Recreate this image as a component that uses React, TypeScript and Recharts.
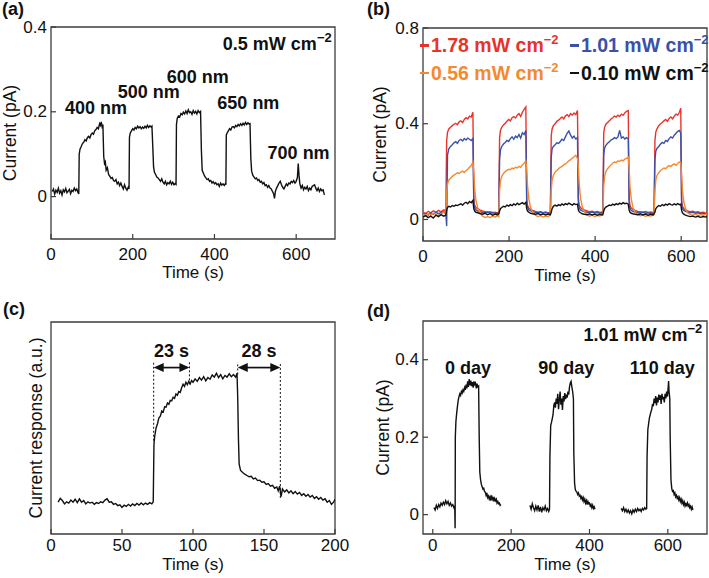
import React from "react";
import {
  LineChart, Line, XAxis, YAxis, ReferenceArea, ReferenceLine, ReferenceDot, Legend,
} from "recharts";

const FONT = '"Liberation Sans", Arial, Helvetica, sans-serif';
const INK = "#111111";
const FRAME = "#3c3c3c";
const AXIS_W = 40;
const AXIS_H = 30;

// ---------- (a) wavelength response, 0.5 mW cm-2 ----------
const traceA: [number, number][] = [
  [3, 0.012], [6, 0.018], [9, 0.006], [12, 0.015], [15, 0.010], [18, 0.020], [21, 0.008], [24, 0.014],
  [27, 0.004], [30, 0.016], [33, 0.011], [36, 0.019], [39, 0.009], [42, 0.013], [45, 0.017], [48, 0.007],
  [51, 0.015], [54, 0.012], [57, 0.020], [60, 0.014], [63, 0.018], [66, 0.010], [68, 0.006],
  [69, 0.100], [71, 0.112], [74, 0.118], [77, 0.125], [80, 0.128], [83, 0.134], [86, 0.131], [89, 0.139],
  [92, 0.142], [95, 0.138], [98, 0.146], [101, 0.150], [104, 0.147], [107, 0.155], [110, 0.158], [113, 0.163],
  [116, 0.160], [119, 0.172], [121, 0.168], [123, 0.176], [125, 0.165], [127, 0.170],
  [129, 0.095], [131, 0.078], [133, 0.082], [135, 0.062], [138, 0.068], [141, 0.052], [144, 0.048], [147, 0.043],
  [150, 0.045], [153, 0.038], [156, 0.036], [159, 0.040], [162, 0.030], [165, 0.034], [168, 0.026], [171, 0.032],
  [174, 0.024], [177, 0.018], [180, 0.028], [183, 0.020], [186, 0.015], [189, 0.022], [191, 0.018],
  [192, 0.140], [194, 0.150], [197, 0.155], [200, 0.160], [203, 0.157], [206, 0.163], [209, 0.160], [212, 0.166],
  [215, 0.162], [218, 0.165], [221, 0.160], [224, 0.164], [227, 0.161], [230, 0.166], [233, 0.162], [236, 0.168],
  [239, 0.163], [242, 0.167], [245, 0.164], [247, 0.166],
  [249, 0.120], [251, 0.070], [253, 0.058], [256, 0.052], [259, 0.046], [262, 0.044], [265, 0.040], [268, 0.036],
  [271, 0.042], [274, 0.034], [277, 0.030], [280, 0.036], [283, 0.028], [286, 0.033], [289, 0.030], [292, 0.036],
  [295, 0.029], [298, 0.034], [301, 0.028], [304, 0.031], [306, 0.029],
  [307, 0.170], [309, 0.185], [312, 0.190], [315, 0.188], [318, 0.196], [321, 0.193], [324, 0.199], [327, 0.195],
  [330, 0.202], [333, 0.196], [336, 0.205], [339, 0.198], [342, 0.200], [345, 0.194], [348, 0.203], [351, 0.197],
  [354, 0.201], [357, 0.195], [360, 0.203], [363, 0.198], [366, 0.201],
  [368, 0.110], [370, 0.062], [373, 0.055], [376, 0.048], [379, 0.044], [382, 0.040], [385, 0.042], [388, 0.036],
  [391, 0.038], [394, 0.032], [397, 0.035], [400, 0.030], [403, 0.033], [406, 0.028], [409, 0.030], [412, 0.024],
  [415, 0.032], [418, 0.027], [421, 0.030], [424, 0.026], [427, 0.031], [428, 0.028],
  [429, 0.145], [431, 0.150], [434, 0.155], [437, 0.160], [440, 0.157], [443, 0.164], [446, 0.165], [449, 0.162],
  [452, 0.168], [455, 0.165], [458, 0.170], [461, 0.167], [464, 0.172], [467, 0.168], [470, 0.173], [473, 0.169],
  [476, 0.175], [479, 0.170], [482, 0.174], [485, 0.171], [487, 0.172],
  [489, 0.090], [491, 0.060], [494, 0.050], [497, 0.046], [500, 0.042], [503, 0.044], [506, 0.038], [509, 0.040],
  [512, 0.034], [515, 0.036], [518, 0.030], [521, 0.033], [524, 0.026], [527, 0.028], [530, 0.022], [533, 0.026],
  [536, 0.020], [539, 0.018], [542, 0.012], [545, 0.006], [547, -0.004], [549, 0.012], [552, 0.020], [555, 0.026],
  [558, 0.032], [561, 0.036], [564, 0.028], [567, 0.022], [570, 0.018], [573, 0.024], [576, 0.030], [579, 0.026],
  [582, 0.032], [585, 0.030], [588, 0.036], [591, 0.033], [594, 0.038], [597, 0.032], [600, 0.036], [603, 0.045],
  [605, 0.078], [607, 0.050], [609, 0.030], [612, 0.020], [615, 0.026], [618, 0.016], [621, 0.022], [624, 0.018],
  [627, 0.024], [630, 0.014], [633, 0.020], [636, 0.016], [639, 0.024], [642, 0.026], [645, 0.028], [648, 0.020],
  [651, 0.014], [654, 0.020], [657, 0.012], [660, 0.018], [663, 0.014], [666, 0.016], [669, 0.004],
];
const wavelengths = ["400 nm", "500 nm", "600 nm", "650 nm", "700 nm"];
const wavelengthPos: [number, number][] = [[110, 0.208], [239, 0.247], [359, 0.282], [483, 0.22], [606, 0.104]];

// ---------- (b) intensity dependence ----------
const timeB = [
  0, 6, 12, 18, 24, 30, 36, 42, 48, 53,
  55, 57, 60, 64, 68, 72, 76, 80, 84, 88, 92, 96, 100, 104, 108, 112, 116,
  118, 120, 123, 127, 132, 138, 144, 150, 156, 162, 168, 173, 176,
  178, 180, 183, 187, 191, 195, 199, 203, 207, 211, 215, 219, 223, 227, 231, 235, 239,
  241, 243, 246, 250, 255, 261, 267, 273, 279, 285, 291, 296,
  298, 300, 303, 307, 311, 315, 319, 323, 327, 331, 335, 339, 343, 347, 351, 355, 359,
  361, 363, 366, 370, 375, 381, 387, 393, 399, 405, 411, 416, 418,
  420, 422, 425, 429, 433, 437, 441, 445, 449, 453, 457, 461, 465, 469, 473, 477,
  479, 481, 484, 488, 493, 499, 505, 511, 517, 523, 529, 535, 537,
  539, 541, 544, 548, 552, 556, 560, 564, 568, 572, 576, 580, 584, 588, 592, 596, 599,
  601, 603, 606, 610, 615, 621, 627, 633, 639, 645, 651, 657, 660,
];
const red178 = [
  0.030, 0.024, 0.034, 0.028, 0.036, 0.030, 0.038, 0.032, 0.040, 0.036,
  0.330, 0.365, 0.378, 0.385, 0.392, 0.398, 0.402, 0.396, 0.408, 0.412, 0.405, 0.418, 0.425, 0.420, 0.432, 0.428, 0.448,
  0.090, 0.060, 0.050, 0.045, 0.040, 0.036, 0.033, 0.030, 0.032, 0.028, 0.030, 0.026, 0.030,
  0.340, 0.372, 0.385, 0.395, 0.402, 0.410, 0.418, 0.412, 0.425, 0.430, 0.424, 0.436, 0.442, 0.430, 0.448, 0.460, 0.470,
  0.085, 0.058, 0.048, 0.042, 0.038, 0.034, 0.030, 0.032, 0.028, 0.031, 0.027, 0.030,
  0.350, 0.378, 0.392, 0.400, 0.410, 0.415, 0.422, 0.428, 0.420, 0.432, 0.438, 0.430, 0.442, 0.436, 0.445, 0.438, 0.455,
  0.090, 0.060, 0.050, 0.044, 0.040, 0.036, 0.032, 0.034, 0.030, 0.033, 0.029, 0.031, 0.030,
  0.360, 0.385, 0.398, 0.405, 0.412, 0.420, 0.425, 0.432, 0.428, 0.436, 0.430, 0.440, 0.435, 0.445, 0.452, 0.455,
  0.088, 0.058, 0.048, 0.042, 0.038, 0.034, 0.032, 0.030, 0.033, 0.029, 0.031, 0.028, 0.030,
  0.330, 0.365, 0.380, 0.392, 0.400, 0.405, 0.412, 0.418, 0.410, 0.422, 0.428, 0.420, 0.432, 0.440, 0.436, 0.448, 0.465,
  0.080, 0.055, 0.046, 0.040, 0.036, 0.032, 0.034, 0.030, 0.032, 0.028, 0.030, 0.026, 0.028,
];
const blue101 = [
  0.020, 0.026, 0.018, 0.028, 0.022, 0.030, 0.024, 0.028, 0.032, 0.026,
  -0.028, 0.270, 0.295, 0.305, 0.312, 0.320, 0.325, 0.318, 0.330, 0.335, 0.328, 0.338, 0.332, 0.340, 0.335, 0.330, 0.338,
  0.070, 0.048, 0.040, 0.036, 0.032, 0.030, 0.028, 0.031, 0.027, 0.029, 0.025, 0.028, 0.026,
  0.250, 0.290, 0.305, 0.315, 0.322, 0.330, 0.326, 0.338, 0.345, 0.335, 0.348, 0.342, 0.355, 0.340, 0.362, 0.355, 0.372,
  0.075, 0.050, 0.040, 0.036, 0.033, 0.030, 0.028, 0.031, 0.027, 0.029, 0.026, 0.028,
  0.260, 0.295, 0.305, 0.312, 0.320, 0.318, 0.326, 0.335, 0.330, 0.345, 0.360, 0.370, 0.352, 0.340, 0.348, 0.336, 0.342,
  0.072, 0.048, 0.040, 0.036, 0.033, 0.030, 0.028, 0.031, 0.027, 0.029, 0.026, 0.028, 0.027,
  0.270, 0.298, 0.310, 0.318, 0.325, 0.332, 0.336, 0.342, 0.338, 0.345, 0.372, 0.340, 0.345, 0.336, 0.342, 0.338,
  0.070, 0.046, 0.038, 0.034, 0.031, 0.029, 0.027, 0.030, 0.026, 0.028, 0.025, 0.027, 0.026,
  0.250, 0.285, 0.298, 0.305, 0.315, 0.322, 0.318, 0.330, 0.326, 0.338, 0.345, 0.340, 0.352, 0.360, 0.368, 0.372, 0.360,
  0.065, 0.045, 0.038, 0.034, 0.031, 0.028, 0.030, 0.026, 0.028, 0.024, 0.026, 0.022, 0.024,
];
const orange056 = [
  0.020, 0.014, 0.024, 0.018, 0.026, 0.020, 0.016, 0.024, 0.030, 0.022,
  0.110, 0.150, 0.165, 0.172, 0.180, 0.185, 0.190, 0.195, 0.192, 0.198, 0.202, 0.196, 0.205, 0.210, 0.218, 0.225, 0.240,
  0.200, 0.130, 0.080, 0.050, 0.030, 0.015, 0.008, 0.012, 0.008, 0.014, 0.010, 0.016, 0.012,
  0.120, 0.160, 0.180, 0.192, 0.200, 0.205, 0.210, 0.208, 0.215, 0.212, 0.218, 0.215, 0.222, 0.218, 0.228, 0.235, 0.245,
  0.210, 0.140, 0.085, 0.050, 0.030, 0.018, 0.012, 0.016, 0.010, 0.014, 0.012, 0.018,
  0.120, 0.165, 0.185, 0.198, 0.205, 0.212, 0.218, 0.222, 0.228, 0.232, 0.238, 0.245, 0.250, 0.256, 0.262, 0.268, 0.255,
  0.220, 0.150, 0.090, 0.055, 0.032, 0.020, 0.014, 0.018, 0.012, 0.016, 0.014, 0.020, 0.018,
  0.140, 0.180, 0.200, 0.212, 0.220, 0.228, 0.235, 0.240, 0.238, 0.245, 0.242, 0.248, 0.245, 0.252, 0.255, 0.260,
  0.215, 0.140, 0.085, 0.050, 0.030, 0.020, 0.015, 0.018, 0.013, 0.016, 0.014, 0.018, 0.020,
  0.120, 0.165, 0.185, 0.195, 0.205, 0.210, 0.215, 0.212, 0.220, 0.225, 0.222, 0.228, 0.232, 0.226, 0.235, 0.240, 0.238,
  0.190, 0.120, 0.075, 0.045, 0.028, 0.020, 0.018, 0.022, 0.016, 0.020, 0.018, 0.022, 0.020,
];
const black010 = [
  0.010, 0.016, 0.008, 0.014, 0.006, 0.018, 0.012, 0.020, 0.014, 0.018,
  0.040, 0.050, 0.055, 0.052, 0.058, 0.055, 0.060, 0.058, 0.062, 0.065, 0.060, 0.068, 0.072, 0.066, 0.075, 0.070, 0.080,
  0.045, 0.035, 0.030, 0.028, 0.025, 0.022, 0.026, 0.020, 0.024, 0.018, 0.022, 0.020, 0.024,
  0.035, 0.045, 0.050, 0.055, 0.052, 0.060, 0.056, 0.062, 0.058, 0.065, 0.060, 0.068, 0.062, 0.066, 0.070, 0.064, 0.072,
  0.045, 0.035, 0.030, 0.026, 0.024, 0.022, 0.025, 0.020, 0.023, 0.019, 0.022, 0.020,
  0.030, 0.045, 0.055, 0.060, 0.056, 0.062, 0.058, 0.065, 0.060, 0.066, 0.062, 0.068, 0.064, 0.060, 0.066, 0.062, 0.064,
  0.040, 0.032, 0.028, 0.024, 0.022, 0.020, 0.023, 0.019, 0.022, 0.018, 0.021, 0.019, 0.022,
  0.035, 0.045, 0.052, 0.056, 0.060, 0.058, 0.064, 0.060, 0.066, 0.062, 0.068, 0.064, 0.070, 0.066, 0.068, 0.064,
  0.040, 0.030, 0.026, 0.024, 0.022, 0.020, 0.023, 0.019, 0.022, 0.018, 0.021, 0.019, 0.024,
  0.030, 0.045, 0.052, 0.058, 0.055, 0.062, 0.058, 0.064, 0.060, 0.066, 0.062, 0.060, 0.065, 0.061, 0.066, 0.062, 0.064,
  0.038, 0.028, 0.022, 0.018, 0.015, 0.012, 0.014, 0.010, 0.013, 0.009, 0.012, 0.010, 0.014,
];
const intensities = ["1.78", "1.01", "0.56", "0.10"];
const intensityKeys = ["i178", "i101", "i056", "i010"];
const intensityColors = ["#e8332b", "#3a51a8", "#f5892f", "#111111"];

// ---------- (c) rise / decay ----------
const traceC: [number, number][] = [
  [5, 0.150], [6.5, 0.168], [8, 0.158], [9.5, 0.142], [11, 0.152], [12.5, 0.146], [14, 0.160], [15.5, 0.150],
  [17, 0.164], [18.5, 0.148], [20, 0.166], [21.5, 0.150], [23, 0.158], [24.5, 0.142], [26, 0.152], [27.5, 0.146],
  [29, 0.150], [30.5, 0.140], [32, 0.148], [33.5, 0.144], [35, 0.152], [36.5, 0.148], [38, 0.160], [39.5, 0.166],
  [41, 0.150], [42.5, 0.152], [44, 0.140], [45.5, 0.144], [47, 0.134], [48.5, 0.138], [50, 0.125], [51.5, 0.136],
  [53, 0.130], [54.5, 0.140], [56, 0.132], [57.5, 0.142], [59, 0.134], [60.5, 0.144], [62, 0.136], [63.5, 0.146],
  [65, 0.138], [66.5, 0.146], [68, 0.140], [69.5, 0.148], [71, 0.142], [72, 0.152],
  [72.5, 0.420], [73, 0.460], [74, 0.500], [75, 0.520], [76, 0.548], [77, 0.556], [78, 0.580], [79, 0.575],
  [80, 0.600], [81, 0.598], [82, 0.618], [83, 0.612], [84, 0.630], [85, 0.628], [86, 0.645], [87, 0.640],
  [88, 0.660], [89, 0.654], [90, 0.672], [91, 0.668], [92, 0.690], [93, 0.706], [94, 0.696], [95, 0.716],
  [96, 0.704], [97, 0.720], [98, 0.708], [99, 0.724], [100, 0.716], [101.5, 0.732], [103, 0.720], [104.5, 0.738],
  [106, 0.726], [107.5, 0.742], [109, 0.722], [110.5, 0.738], [112, 0.730], [113.5, 0.750], [115, 0.740], [116.5, 0.758],
  [118, 0.738], [119.5, 0.752], [121, 0.732], [122.5, 0.748], [124, 0.740], [125.5, 0.756], [127, 0.742], [128.5, 0.752],
  [130, 0.740], [131, 0.758],
  [131.5, 0.640], [132, 0.450], [132.5, 0.330], [133.5, 0.300], [135, 0.290], [136.5, 0.282], [138, 0.276], [139.5, 0.270],
  [141, 0.272], [142.5, 0.260], [144, 0.264], [145.5, 0.252], [147, 0.254], [148.5, 0.244], [150, 0.246], [151.5, 0.234],
  [153, 0.238], [154.5, 0.226], [156, 0.230], [157.5, 0.216], [159, 0.222], [160, 0.204], [161, 0.226], [162, 0.176],
  [163, 0.212], [164.5, 0.198], [166, 0.208], [167.5, 0.194], [169, 0.204], [170.5, 0.190], [172, 0.200], [173.5, 0.188],
  [175, 0.196], [176.5, 0.182], [178, 0.190], [179.5, 0.178], [181, 0.186], [182.5, 0.174], [184, 0.182], [185.5, 0.168],
  [187, 0.176], [188.5, 0.164], [190, 0.172], [191.5, 0.160], [193, 0.166], [194.5, 0.150], [196, 0.158], [197.5, 0.140],
  [199, 0.150], [200, 0.164],
];
const responseTimes = ["23 s", "28 s"];
const responseSpans: [number, number][] = [[72.3, 97.5], [131.5, 161.5]];
const guideBottoms = [0.44, 0.706, 0.753, 0.17];

// ---------- (d) stability, 1.01 mW cm-2 ----------
const day0: [number, number][] = [
  [3, 0.018], [6, 0.012], [9, 0.024], [12, 0.016], [15, 0.026], [18, 0.020], [21, 0.030], [24, 0.024], [27, 0.032],
  [30, 0.026], [33, 0.036], [36, 0.028], [39, 0.034], [42, 0.024], [45, 0.030], [48, 0.022], [51, 0.026], [54, 0.018],
  [56, 0.022], [57, -0.035], [57.5, 0.200], [59, 0.240], [61, 0.262], [63, 0.280], [65, 0.296], [67, 0.305], [69, 0.312],
  [71, 0.308], [73, 0.318], [75, 0.314], [77, 0.322], [79, 0.318], [81, 0.328], [83, 0.322], [85, 0.336], [87, 0.326],
  [89, 0.344], [91, 0.330], [93, 0.350], [95, 0.334], [97, 0.346], [99, 0.332], [101, 0.342], [103, 0.328], [105, 0.344],
  [107, 0.336], [109, 0.340], [111, 0.326], [113, 0.338], [115, 0.330], [117, 0.332],
  [118.5, 0.200], [120, 0.110], [122, 0.090], [124, 0.078], [126, 0.072], [128, 0.066], [130, 0.068], [132, 0.060],
  [134, 0.058], [136, 0.050], [138, 0.056], [140, 0.044], [142, 0.048], [144, 0.040], [146, 0.046], [148, 0.036],
  [150, 0.050], [152, 0.040], [154, 0.046], [156, 0.034], [158, 0.042], [160, 0.036], [162, 0.040], [164, 0.030],
  [166, 0.034], [168, 0.028], [170, 0.030], [172, 0.024], [174, 0.026],
];
const day90: [number, number][] = [
  [248, 0.024], [251, 0.014], [254, 0.028], [257, 0.018], [260, 0.010], [263, 0.022], [266, 0.012], [269, 0.024],
  [272, 0.008], [275, 0.020], [278, 0.006], [281, 0.018], [284, 0.012], [287, 0.022], [290, 0.010], [293, 0.016],
  [296, 0.008], [298, 0.014], [299, 0.150], [301, 0.230], [303, 0.238], [305, 0.248], [307, 0.258], [309, 0.282],
  [311, 0.290], [313, 0.276], [315, 0.300], [317, 0.286], [319, 0.312], [321, 0.272], [323, 0.296], [325, 0.318],
  [327, 0.284], [329, 0.300], [331, 0.270], [333, 0.306], [335, 0.292], [337, 0.314], [339, 0.298], [341, 0.310],
  [343, 0.302], [345, 0.318], [347, 0.310], [349, 0.330], [351, 0.340], [353, 0.344], [355, 0.330], [357, 0.318],
  [359, 0.300], [360, 0.160], [362, 0.080], [364, 0.064], [366, 0.060], [368, 0.058], [370, 0.052], [372, 0.056],
  [374, 0.048], [376, 0.050], [378, 0.042], [380, 0.046], [382, 0.038], [384, 0.044], [386, 0.034], [388, 0.040],
  [390, 0.030], [392, 0.036], [394, 0.026], [396, 0.034], [398, 0.028], [400, 0.030], [402, 0.022], [404, 0.026],
  [406, 0.018], [408, 0.024], [410, 0.016], [412, 0.020], [414, 0.014],
];
const day110: [number, number][] = [
  [481, 0.016], [484, 0.010], [487, 0.018], [490, 0.008], [493, 0.014], [496, 0.006], [499, 0.012], [502, 0.004],
  [505, 0.010], [508, 0.002], [511, 0.012], [514, 0.006], [517, 0.014], [520, 0.008], [523, 0.016], [526, 0.010],
  [529, 0.014], [532, 0.008], [535, 0.016], [538, 0.012], [541, 0.018], [544, 0.014], [546, 0.016], [547, 0.150],
  [549, 0.220], [551, 0.235], [553, 0.250], [555, 0.258], [557, 0.266], [559, 0.272], [561, 0.286], [563, 0.280],
  [565, 0.300], [567, 0.288], [569, 0.306], [571, 0.282], [573, 0.302], [575, 0.290], [577, 0.310], [579, 0.296],
  [581, 0.308], [583, 0.286], [585, 0.312], [587, 0.298], [589, 0.304], [591, 0.290], [593, 0.312], [595, 0.300],
  [597, 0.318], [599, 0.305], [601, 0.330], [602, 0.345], [603, 0.320], [605, 0.300], [606, 0.200], [608, 0.090],
  [610, 0.068], [612, 0.060], [614, 0.062], [616, 0.052], [618, 0.056], [620, 0.046], [622, 0.050], [624, 0.042],
  [626, 0.046], [628, 0.038], [630, 0.044], [632, 0.034], [634, 0.040], [636, 0.030], [638, 0.036], [640, 0.026],
  [642, 0.032], [644, 0.022], [646, 0.028], [648, 0.024], [650, 0.030], [652, 0.022], [654, 0.026], [656, 0.018],
  [658, 0.022], [660, 0.014], [662, 0.020], [664, 0.012],
];
const ageLabels = ["0 day", "90 day", "110 day"];
const agePos = [90, 341, 586];

const toRows = (pts: [number, number][]) => pts.map(([t, v]) => ({ t, v }));
const rowsB = timeB.map((t, i) => ({
  t, i178: red178[i], i101: blue101[i], i056: orange056[i], i010: black010[i],
}));

// ---------- shared pieces ----------
const fmt = (v: number) => (v === 0 ? "0" : String(v));

const xTick = (gap: number) => (p: any) => (
  <g>
    <line x1={p.x} x2={p.x} y1={p.y} y2={p.y - 5} stroke={FRAME} strokeWidth={1.2} />
    <text x={p.x} y={p.y + gap} textAnchor="middle" dominantBaseline="central"
      fontSize={17} fontFamily={FONT} fill={INK}>{fmt(p.payload.value)}</text>
  </g>
);

const yTick = (p: any) => (
  <g>
    <line x1={p.x} x2={p.x + 5} y1={p.y} y2={p.y} stroke={FRAME} strokeWidth={1.2} />
    <text x={p.x - 4} y={p.y} textAnchor="end" dominantBaseline="central"
      fontSize={17} fontFamily={FONT} fill={INK}>{fmt(p.payload.value)}</text>
  </g>
);

const xTitle = (gap: number) => (p: any) => {
  const vb = p.viewBox || {};
  return (
    <text x={vb.x + vb.width / 2} y={vb.y + gap} textAnchor="middle"
      fontSize={17} fontFamily={FONT} fill={INK}>Time (s)</text>
  );
};

// y axis viewBox spans the axis strip; its right edge is the plot's left edge
const yTitle = (label: string, dx: number) => (p: any) => {
  const vb = p.viewBox || {};
  const cx = vb.x + vb.width - dx;
  const cy = vb.y + vb.height / 2;
  return (
    <text x={cx} y={cy} transform={`rotate(-90, ${cx}, ${cy})`} textAnchor="middle"
      dominantBaseline="central" fontSize={17.5} fontFamily={FONT} fill={INK}>{label}</text>
  );
};

type Frame = {
  x: [number, number]; y: [number, number]; xTicks: number[]; yTicks?: number[];
  gap: number; titleGap: number; yLabel: string; yDx: number;
};

function frame(f: Frame) {
  return [
    <XAxis key="x" dataKey="t" type="number" domain={f.x} ticks={f.xTicks} interval={0}
      allowDataOverflow height={AXIS_H} tickSize={0} tickMargin={0} axisLine={false} tickLine={false}
      tick={xTick(f.gap)} label={{ content: xTitle(f.titleGap) }} />,
    <YAxis key="y" type="number" domain={f.y} ticks={f.yTicks} interval={0}
      allowDataOverflow width={AXIS_W} tickSize={0} tickMargin={0} axisLine={false} tickLine={false}
      tick={f.yTicks ? yTick : false} label={{ content: yTitle(f.yLabel, f.yDx) }} />,
    <ReferenceArea key="box" x1={f.x[0]} x2={f.x[1]} y1={f.y[0]} y2={f.y[1]} ifOverflow="visible"
      fill="none" fillOpacity={0} stroke={FRAME} strokeWidth={1.3} />,
  ];
}

function note(key: string, x: number, y: number, text: string, size: number,
  anchor: "start" | "middle" | "end" = "middle", sup = false) {
  return (
    <ReferenceDot key={key} x={x} y={y} r={0} ifOverflow="visible"
      shape={(p: any) => (
        <text x={p.cx} y={p.cy} textAnchor={anchor} dominantBaseline="central" fontSize={size}
          fontWeight="bold" fontFamily={FONT} fill={INK}>
          {text}
          {sup && <tspan dy={-7} fontSize={13}>−2</tspan>}
        </text>
      )} />
  );
}

const arrowShape = (label: string) => (p: any) => {
  const { x1, y1, x2 } = p;
  const h = 10;
  const w = 4.5;
  return (
    <g>
      <line x1={x1 + h - 1} x2={x2 - h + 1} y1={y1} y2={y1} stroke={INK} strokeWidth={1.7} />
      <polygon points={`${x1},${y1} ${x1 + h},${y1 - w} ${x1 + h},${y1 + w}`} fill={INK} />
      <polygon points={`${x2},${y1} ${x2 - h},${y1 - w} ${x2 - h},${y1 + w}`} fill={INK} />
      <text x={(x1 + x2) / 2} y={y1 - 17} textAnchor="middle" dominantBaseline="central"
        fontSize={18} fontWeight="bold" fontFamily={FONT} fill={INK}>{label}</text>
    </g>
  );
};

const legendB = () => (
  <div style={{
    display: "grid", gridTemplateColumns: "150px 150px", lineHeight: "25.6px",
    fontFamily: FONT, fontWeight: "bold", fontSize: 19.5, whiteSpace: "nowrap",
  }}>
    {intensities.map((s, i) => (
      <div key={s} style={{ color: intensityColors[i] }}>
        <span style={{
          display: "inline-block", width: 9, height: 2.6, background: intensityColors[i],
          verticalAlign: "middle", position: "relative", top: -1.5, marginRight: 2,
        }} />
        {s} mW cm<span style={{ fontSize: 13, position: "relative", top: -8 }}>−2</span>
      </div>
    ))}
  </div>
);

const panelTag = (text: string, left: number, top: number) => (
  <div style={{
    position: "absolute", left, top, fontFamily: FONT, fontWeight: "bold",
    fontSize: 18, lineHeight: "18px", color: INK,
  }}>{text}</div>
);

// plot box edges are given by margins + axis strips
const m = (top: number, left: number, right: number, bottom: number) => ({
  top, right, left: left - AXIS_W, bottom: bottom - AXIS_H,
});

export default function App() {
  return (
    <div style={{ position: "absolute", left: 0, top: 0, width: 709, height: 578, background: "#fff", fontFamily: FONT }}>
      <div style={{ position: "absolute", left: 0, top: 0 }}>
        <LineChart width={354} height={289} data={toRows(traceA)} margin={m(27, 51, 19, 50)}>
          {frame({ x: [0, 695], y: [-0.1, 0.4], xTicks: [0, 200, 400, 600], yTicks: [0, 0.2, 0.4],
            gap: 15, titleGap: 38.5, yLabel: "Current (pA)", yDx: 41 })}
          <Line dataKey="v" type="linear" stroke={INK} strokeWidth={1.4} dot={false} isAnimationActive={false} />
          {wavelengths.map((w, i) => note(`w${i}`, wavelengthPos[i][0], wavelengthPos[i][1], w, 18))}
          {note("pa", 687, 0.361, "0.5 mW cm", 18, "end", true)}
        </LineChart>
      </div>

      <div style={{ position: "absolute", left: 354, top: 0 }}>
        <LineChart width={355} height={289} data={rowsB} margin={m(28, 69, 2, 48)}>
          {frame({ x: [0, 660], y: [-0.09, 0.8], xTicks: [0, 200, 400, 600], yTicks: [0, 0.4, 0.8],
            gap: 15.5, titleGap: 39.5, yLabel: "Current (pA)", yDx: 43 })}
          {intensityKeys.map((k, i) => (
            <Line key={k} dataKey={k} name={`${intensities[i]} mW cm−2`} type="linear"
              stroke={intensityColors[i]} strokeWidth={1.4} dot={false} isAnimationActive={false} />
          ))}
          <Legend layout="vertical" align="center" verticalAlign="middle"
            wrapperStyle={{ left: 66, top: 33, width: 300 }} content={legendB} />
        </LineChart>
      </div>

      <div style={{ position: "absolute", left: 0, top: 289 }}>
        <LineChart width={354} height={289} data={toRows(traceC)} margin={m(33, 51, 19, 44)}>
          {frame({ x: [0, 200], y: [0, 1], xTicks: [0, 50, 100, 150, 200],
            gap: 11, titleGap: 35.5, yLabel: "Current response (a.u.)", yDx: 15 })}
          {[responseSpans[0][0], responseSpans[0][1], responseSpans[1][0], responseSpans[1][1]].map((x, i) => (
            <ReferenceLine key={`g${i}`} segment={[{ x, y: guideBottoms[i] }, { x, y: 0.81 }]}
              stroke={INK} strokeWidth={1} strokeDasharray="2 2" ifOverflow="visible" />
          ))}
          {responseSpans.map(([a, b], i) => (
            <ReferenceLine key={`a${i}`} segment={[{ x: a, y: 0.785 }, { x: b, y: 0.785 }]}
              ifOverflow="visible" shape={arrowShape(responseTimes[i])} />
          ))}
          <Line dataKey="v" type="linear" stroke={INK} strokeWidth={1.4} dot={false} isAnimationActive={false} />
        </LineChart>
      </div>

      <div style={{ position: "absolute", left: 354, top: 289 }}>
        <LineChart width={355} height={289} margin={m(32, 69, 2, 44)}>
          {frame({ x: [-25, 700], y: [-0.05, 0.5], xTicks: [0, 200, 400, 600], yTicks: [0, 0.2, 0.4],
            gap: 11, titleGap: 35.5, yLabel: "Current (pA)", yDx: 40 })}
          {[day0, day90, day110].map((d, i) => (
            <Line key={`d${i}`} data={toRows(d)} dataKey="v" type="linear" stroke={INK} strokeWidth={1.4}
              dot={false} isAnimationActive={false} />
          ))}
          {ageLabels.map((s, i) => note(`age${i}`, agePos[i], 0.379, s, 18))}
          {note("pd", 688, 0.465, "1.01 mW cm", 18, "end", true)}
        </LineChart>
      </div>

      {panelTag("(a)", 2, 0)}
      {panelTag("(b)", 367, 0)}
      {panelTag("(c)", 3, 300)}
      {panelTag("(d)", 367, 302)}
    </div>
  );
}
